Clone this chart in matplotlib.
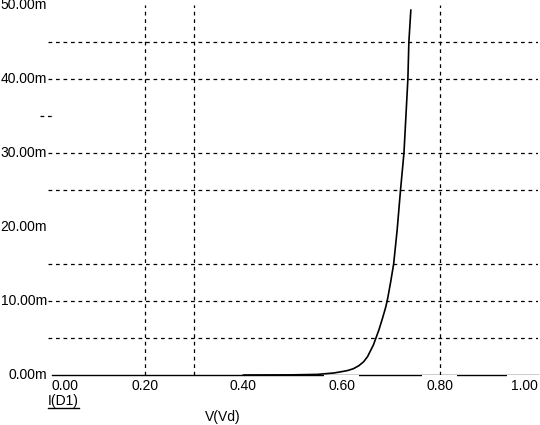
import matplotlib
matplotlib.use("Agg")
import matplotlib.pyplot as plt
from matplotlib.lines import Line2D

# Data (V in volts, I in mA)
v_d = [0.40, 0.50, 0.55, 0.584, 0.60, 0.612, 0.624, 0.635, 0.645, 0.653,
       0.665, 0.676, 0.683, 0.690, 0.694, 0.700, 0.706, 0.713, 0.720,
       0.727, 0.731, 0.735, 0.737, 0.741]
i_d = [0.0, 0.02, 0.08, 0.27, 0.45, 0.6, 0.85, 1.25, 1.8, 2.5,
       4.1, 6.1, 7.6, 9.2, 10.4, 12.6, 15.0, 19.5, 25.0,
       30.0, 35.0, 40.0, 45.0, 49.3]

x_ticks = [0.0, 0.2, 0.4, 0.6, 0.8, 1.0]
x_tick_labels = ["0.00", "0.20", "0.40", "0.60", "0.80", "1.00"]
y_ticks = [0, 10, 20, 30, 40, 50]
y_tick_labels = ["0.00m", "10.00m", "20.00m", "30.00m", "40.00m", "50.00m"]
h_grid = [5, 10, 15, 25, 30, 40, 45]
v_grid = [0.2, 0.3, 0.8]

W, H = 540, 425
fig = plt.figure(figsize=(W / 100, H / 100), dpi=100)
ax = fig.add_axes([47 / W, 50 / H, 491 / W, 370 / H])
ax.set_xlim(0, 1.0)
ax.set_ylim(0, 50)
ax.set_axis_off()

font = dict(family="Liberation Sans", size=10)

grid_kw = dict(color="black", lw=0.9, ls=(0, (3, 3)), zorder=1)
for g in h_grid:
    ax.axhline(g, xmin=0.002, xmax=1.0, **grid_kw)
# small remnant of a 35m line near the left edge
ax.axhline(35, xmin=-0.015, xmax=0.015, clip_on=False, **grid_kw)
for g in v_grid:
    ax.axvline(g, ymin=0, ymax=1.0, **grid_kw)

# x axis line
ax.axhline(0, xmin=0.01, xmax=1.0, color="black", lw=1.0, zorder=2,
           clip_on=False)

# curve
ax.plot(v_d, i_d, color="black", lw=1.2, zorder=5, clip_on=False)

# x tick labels
for i, (v, lab) in enumerate(zip(x_ticks, x_tick_labels)):
    if i == 0:
        ha, dx = "left", 5
    elif i == len(x_ticks) - 1:
        ha, dx = "right", 0
    else:
        ha, dx = "center", 0
    bbox = None
    if v >= 0.6:
        bbox = dict(boxstyle="square,pad=0.3", fc="white", ec="none")
    ax.annotate(lab, xy=(v, 0), xycoords=("data", "axes fraction"),
                xytext=(dx, -4), textcoords="offset pixels",
                ha=ha, va="top", annotation_clip=False, zorder=3,
                bbox=bbox, **font)

# y tick labels
for v, lab in zip(y_ticks, y_tick_labels):
    ax.annotate(lab, xy=(0, v), xycoords=("axes fraction", "data"),
                xytext=(0, 0), textcoords="offset pixels",
                ha="right", va="center", annotation_clip=False, **font)

# trace name, underlined
fig.text(48 / W, 1 - 401 / H, "I(D1)", ha="left", va="center", **font)
fig.add_artist(Line2D([48 / W, 79 / W], [1 - 408 / H, 1 - 408 / H],
                      color="black", lw=1.0, transform=fig.transFigure))

# x axis title
fig.text(223 / W, 1 - 417 / H, "V(Vd)", ha="center", va="center", **font)

fig.savefig("out.png", dpi=100, facecolor="white")
